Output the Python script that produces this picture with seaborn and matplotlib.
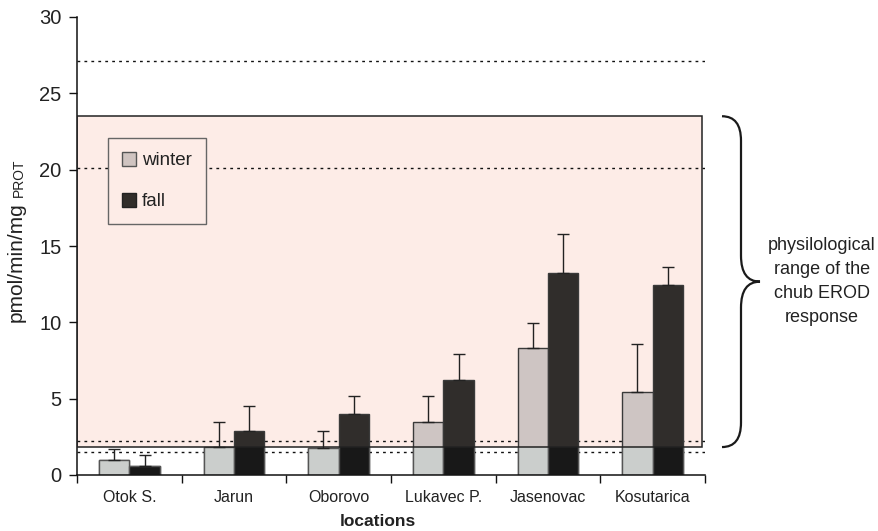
import matplotlib
matplotlib.use("Agg")
import matplotlib.pyplot as plt
from matplotlib.patches import Rectangle, Patch, PathPatch
from matplotlib.path import Path
from matplotlib.transforms import blended_transform_factory
import numpy as np
import pandas as pd
import seaborn as sns

# EROD activity per sampling location and season (mean and SD)
locations = ["Otok S.", "Jarun", "Oborovo", "Lukavec P.", "Jasenovac", "Kosutarica"]
seasons = ["winter", "fall"]
winter = [1.0, 1.85, 1.8, 3.45, 8.35, 5.45]
winter_sd = [0.7, 1.65, 1.1, 1.75, 1.6, 3.15]
fall = [0.6, 2.85, 4.0, 6.2, 13.25, 12.45]
fall_sd = [0.7, 1.65, 1.2, 1.7, 2.55, 1.15]

# physiological range of the chub EROD response and reference levels
range_low, range_high = 1.83, 23.5
ref_levels = [27.1, 20.1, 2.2, 1.5]
yticks = [0, 5, 10, 15, 20, 25, 30]

df = pd.DataFrame({
    "location": locations * 2,
    "season": ["winter"] * len(locations) + ["fall"] * len(locations),
    "value": winter + fall,
})

sns.set_theme(style="ticks")
plt.rcParams["font.family"] = ["Liberation Sans", "DejaVu Sans"]
plt.rcParams["text.color"] = "#222222"
plt.rcParams["axes.labelcolor"] = "#222222"

W, H = 879, 531
fig = plt.figure(figsize=(W / 100, H / 100), dpi=100)
ax = fig.add_axes([77 / W, 1 - 475 / H, 628 / W, 458 / H])

inside_cols = ["#d0c4c1", "#312d2a"]
below_cols = ["#cbcecc", "#181818"]
range_face = "#fdece7"

# shaded physiological range
trans = blended_transform_factory(ax.transAxes, ax.transData)
ax.add_patch(Rectangle((0, range_low), 0.996, range_high - range_low,
                       transform=trans, facecolor=range_face, edgecolor="none",
                       zorder=0.5))

# reference levels
for lv in ref_levels:
    ax.axhline(lv, color="#111111", lw=1.0, ls=(0, (2, 3)), zorder=1)

# bars inside the range
sns.barplot(data=df, x="location", y="value", hue="season", order=locations,
            hue_order=seasons, palette=inside_cols, width=0.58, errorbar=None,
            edgecolor="#3a3a3a", linewidth=1.0, legend=False, ax=ax, zorder=2)
bar_containers = list(ax.containers)

# same bars below the range, drawn with the plain colours
sns.barplot(data=df, x="location", y="value", hue="season", order=locations,
            hue_order=seasons, palette=below_cols, width=0.58, errorbar=None,
            edgecolor="#555555", linewidth=1.0, legend=False, ax=ax, zorder=2.1)
clip = Rectangle((-0.5, 0), 6, range_low, transform=ax.transData)
for cont in ax.containers[len(bar_containers):]:
    for p in cont:
        p.set_clip_path(clip)

# upper error bars
for cont, sds in zip(bar_containers, [winter_sd, fall_sd]):
    for bar, sd in zip(cont, sds):
        xc = bar.get_x() + bar.get_width() / 2
        h = bar.get_height()
        ax.errorbar(xc, h, yerr=[[0], [sd]], fmt="none", ecolor="#222222",
                    elinewidth=1.0, capsize=4, capthick=1.0, zorder=3)

# outline of the range
ax.add_patch(Rectangle((0, range_low), 0.996, range_high - range_low,
                       transform=trans, facecolor="none", edgecolor="#222222",
                       lw=1.1, zorder=3.5))

ax.set_ylim(0, 30)
ax.set_xlim(-0.5, len(locations) - 0.5)
ax.set_yticks(yticks)
ax.set_yticklabels([str(t) for t in yticks])
ax.set_xticks(np.arange(-0.5, len(locations), 1.0))
ax.set_xticklabels([])
ax.set_xticks(np.arange(len(locations)), minor=True)
ax.set_xticklabels(locations, minor=True)
ax.tick_params(axis="x", which="major", length=6, width=1.0, color="#111111",
               direction="out")
ax.tick_params(axis="x", which="minor", length=0, pad=11, labelsize=11.5,
               labelcolor="#222222")
ax.tick_params(axis="y", length=6, width=1.0, color="#111111", direction="out",
               pad=5, labelsize=14.5, labelcolor="#222222")
ax.set_xlabel("")
ax.set_ylabel("")
for s in ["top", "right"]:
    ax.spines[s].set_visible(False)
for s in ["left", "bottom"]:
    ax.spines[s].set_color("#111111")
    ax.spines[s].set_linewidth(1.1)
ax.set_facecolor("white")

# legend
handles = [Patch(facecolor=inside_cols[0], edgecolor="#555555", lw=1.0),
           Patch(facecolor=inside_cols[1], edgecolor="#222222", lw=1.0)]
leg = ax.legend(handles, seasons, loc="upper left",
                bbox_to_anchor=((108 - 77) / 628, (475 - 138) / 458),
                borderaxespad=0, frameon=True, fancybox=False, fontsize=13.5,
                handlelength=0.75, handleheight=0.75, handletextpad=0.3,
                labelspacing=1.25, borderpad=0.75)
frame = leg.get_frame()
frame.set_facecolor(range_face)
frame.set_edgecolor("#666666")
frame.set_linewidth(1.0)
frame.set_alpha(1)
leg.set_zorder(5)

# brace marking the physiological range
x0, x1, x2 = (722 - 77) / 628, (741 - 77) / 628, (760 - 77) / 628
ymid = (range_low + range_high) / 2
r1, r2 = 1.6, 1.7
verts = [(x0, range_high), (x1, range_high), (x1, range_high - r1),
         (x1, ymid + r2), (x1, ymid), (x2, ymid),
         (x1, ymid), (x1, ymid - r2),
         (x1, range_low + r1), (x1, range_low), (x0, range_low)]
codes = [Path.MOVETO, Path.CURVE3, Path.CURVE3,
         Path.LINETO, Path.CURVE3, Path.CURVE3,
         Path.CURVE3, Path.CURVE3,
         Path.LINETO, Path.CURVE3, Path.CURVE3]
ax.add_patch(PathPatch(Path(verts, codes), transform=trans, facecolor="none",
                       edgecolor="#1a1a1a", lw=1.6, clip_on=False))
ax.text((822 - 77) / 628, ymid, "physilological\nrange of the\nchub EROD\nresponse",
        transform=trans, ha="center", va="center", multialignment="center",
        fontsize=13, linespacing=1.55, color="#222222")

# axis titles
fig.text(378 / W, 1 - 521 / H, "locations", ha="center", va="center",
         fontsize=12.5, fontweight="bold", color="#222222")
ylab = fig.text(22 / W, 1 - 322 / H, "pmol/min/mg", rotation=90,
                rotation_mode="anchor", ha="left", va="baseline",
                fontsize=15, color="#222222")
fig.canvas.draw()
bb = ylab.get_window_extent()
fig.text(22.5 / W, (bb.y1 + 5) / H, "PROT", rotation=90, rotation_mode="anchor",
         ha="left", va="baseline", fontsize=10, color="#222222")

fig.savefig("out.png", dpi=100)
